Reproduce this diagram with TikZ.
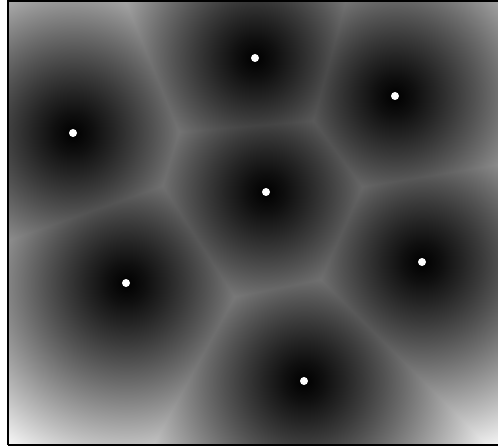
\documentclass[tikz,border=0pt]{standalone}
\usetikzlibrary{fadings}
\pgfdeclareradialshading{distsh}{\pgfpoint{0bp}{0bp}}{%
color(0bp)=(black);
color(20bp)=(white!6.1!black);
color(40bp)=(white!14.1!black);
color(60bp)=(white!22.9!black);
color(80bp)=(white!32.3!black);
color(100bp)=(white!42.2!black);
color(120bp)=(white!52.6!black);
color(140bp)=(white!63.3!black);
color(160bp)=(white!74.2!black);
color(180bp)=(white!85.6!black);
color(200bp)=(white!97.1!black);
color(205bp)=(white);
color(520bp)=(white)}
\tikzset{
  site/.style={circle,fill=white,inner sep=0pt,minimum size=8bp},
  field/.style={inner sep=0pt,outer sep=0pt},
  frame/.style={draw=black,line width=2bp}
}
\begin{document}
\begin{tikzpicture}[x=1bp,y=-1bp]
\useasboundingbox (0,0) rectangle (498,446);
\fill[white] (0,0) rectangle (498,446);
\coordinate (s1) at (255,58);
\coordinate (s2) at (395,96);
\coordinate (s3) at (73,133);
\coordinate (s4) at (266,192);
\coordinate (s5) at (422,262);
\coordinate (s6) at (126,283);
\coordinate (s7) at (304,381);
\begin{scope}
  \clip (9,2) rectangle (498,444);
  \begin{scope}[blend mode=darken]
    \foreach \s in {s1,s2,s3,s4,s5,s6,s7}{
      \node[field] at (\s) {\pgfuseshading{distsh}};
    }
  \end{scope}
\end{scope}
\foreach \s in {s1,s2,s3,s4,s5,s6,s7}{
  \node[site] (d\s) at (\s) {};
}
\draw[frame] (8,1) -- (500,1);
\draw[frame] (8,0) -- (8,445);
\draw[frame] (8,444.5) -- (500,444.5);
\end{tikzpicture}
\end{document}
